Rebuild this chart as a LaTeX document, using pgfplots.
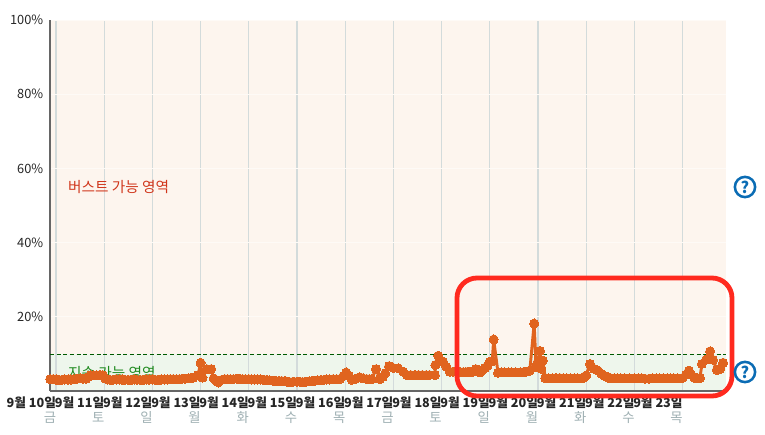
\documentclass[border=0pt]{standalone}
\usepackage{pgfplots}
\pgfplotsset{compat=1.18}
\usepackage{fontspec}
\setmainfont{Noto Sans CJK KR}
\definecolor{burstbg}{HTML}{FDF5EE}
\definecolor{sustbg}{HTML}{EEF6EC}
\definecolor{gridv}{HTML}{D3DBDB}
\definecolor{dataor}{HTML}{E0641F}
\definecolor{helpb}{HTML}{0B6CB4}
\definecolor{boxr}{HTML}{FF2A1F}
\definecolor{wkd}{HTML}{9FB0B3}
\definecolor{bursttxt}{HTML}{D0351A}
\definecolor{susttxt}{HTML}{1E8A1E}
\definecolor{hgrid}{HTML}{FEFAF6}
\newcommand{\Q}[2]{(#1*0.75pt,-#2*0.75pt)}
\pgfplotstableread{
x y
-0.12 3.2
-0.06 3.2
0 3.1
0.06 3.0
0.12 3.0
0.18 3.1
0.25 3.1
0.31 3.1
0.37 3.2
0.43 3.3
0.5 3.4
0.56 3.3
0.62 3.3
0.67 3.8
0.72 4.3
0.78 4.2
0.85 4.2
0.91 4.3
0.97 4.3
1.02 3.4
1.07 3.1
1.12 3.0
1.18 3.0
1.25 3.1
1.31 3.1
1.37 3.1
1.43 3.0
1.5 3.0
1.56 3.0
1.62 3.1
1.68 3.0
1.75 3.0
1.81 3.0
1.87 3.1
1.93 3.1
2 3.1
2.06 3.0
2.12 3.0
2.18 3.1
2.25 3.1
2.31 3.1
2.37 3.2
2.43 3.2
2.5 3.2
2.56 3.2
2.62 3.3
2.68 3.3
2.75 3.4
2.8 3.5
2.85 3.6
2.95 4.3
3.0 7.6
3.04 3.6
3.13 5.9
3.22 5.9
3.27 3.4
3.32 2.8
3.37 2.3
3.44 3.0
3.5 3.2
3.56 3.2
3.62 3.2
3.68 3.2
3.75 3.3
3.81 3.3
3.87 3.2
3.93 3.2
4 3.2
4.06 3.1
4.12 3.1
4.18 3.1
4.25 3.1
4.31 3.0
4.37 3.0
4.43 2.9
4.5 2.8
4.56 2.7
4.62 2.7
4.68 2.7
4.75 2.7
4.8 2.5
4.85 2.4
4.92 2.5
5 2.5
5.06 2.5
5.12 2.4
5.18 2.5
5.25 2.6
5.31 2.7
5.37 2.8
5.43 2.9
5.5 3.0
5.56 3.0
5.62 3.1
5.68 3.1
5.75 3.2
5.82 3.2
5.9 3.3
5.96 4.0
6.02 5.0
6.08 4.0
6.14 3.0
6.22 3.3
6.3 3.7
6.37 3.4
6.45 3.2
6.5 3.2
6.55 3.2
6.64 5.9
6.72 3.2
6.78 3.8
6.83 4.8
6.91 6.7
7 6.2
7.1 6.1
7.2 5.2
7.28 4.3
7.36 4.3
7.45 4.3
7.52 4.3
7.6 4.3
7.68 4.3
7.75 4.3
7.86 4.3
7.87 7.0
7.93 9.5
8.03 7.9
8.1 6.5
8.17 5.2
8.24 5.2
8.3 5.2
8.38 5.1
8.45 5.1
8.5 5.1
8.55 5.2
8.6 5.2
8.65 5.2
8.71 5.9
8.8 5.0
8.85 5.6
8.9 6.2
8.95 6.8
9 7.9
9.05 8.0
9.08 13.9
9.17 4.9
9.24 5.0
9.3 5.0
9.38 5.0
9.45 5.0
9.54 5.0
9.63 5.0
9.7 5.1
9.75 5.2
9.83 5.5
9.92 18.2
9.96 6.5
10 8.0
10.04 10.8
10.07 6.0
10.1 8.2
10.15 3.5
10.22 3.4
10.3 3.4
10.37 3.5
10.45 3.5
10.52 3.4
10.6 3.4
10.68 3.4
10.75 3.4
10.82 3.4
10.9 3.4
10.95 3.6
11 4.2
11.08 7.3
11.16 6.0
11.24 5.5
11.32 4.6
11.39 4.0
11.45 3.6
11.5 3.5
11.58 3.4
11.65 3.4
11.72 3.4
11.8 3.4
11.9 3.4
12 3.4
12.08 3.4
12.15 3.4
12.22 3.3
12.3 3.3
12.38 3.4
12.45 3.4
12.52 3.4
12.6 3.4
12.68 3.4
12.75 3.4
12.82 3.4
12.9 3.4
13 3.5
13.07 4.4
13.13 5.5
13.18 4.4
13.24 3.6
13.3 3.5
13.36 3.5
13.4 7.3
13.49 8.5
13.57 10.7
13.63 8.4
13.71 5.7
13.75 5.8
13.78 6.0
13.84 7.6
}\usage
\begin{document}
\begin{tikzpicture}[every node/.append style={inner sep=0pt,outer sep=0pt}]
\path[use as bounding box] (0,0) rectangle (765*0.75pt,-435*0.75pt);
\fill[burstbg] \Q{50}{20} rectangle \Q{726}{354};
\fill[sustbg] \Q{50}{354} rectangle \Q{726}{391};
\begin{axis}[
  at={(37.5pt,-293.25pt)},anchor=south west,
  scale only axis,width=507pt,height=278.25pt,
  xmin=-0.1245,xmax=13.9,ymin=0,ymax=100,
  axis x line=bottom,axis y line=left,
  axis line style={-,draw=black!60,line width=1.4pt},
  tick style={draw=none},
  xtick={0,...,13},
  xticklabels={9월 10일,9월 11일,9월 12일,9월 13일,9월 14일,9월 15일,9월 16일,9월 17일,9월 18일,9월 19일,9월 20일,9월 21일,9월 22일,9월 23일},
  xticklabel style={font=\fontsize{9.5pt}{11pt}\selectfont\bfseries,text=black!85,anchor=north east,xshift=0pt,yshift=-2pt},
  ytick={20,40,60,80,100},
  yticklabel={\pgfmathprintnumber[assume math mode=true]{\tick}\%},
  yticklabel style={font=\fontsize{9.6pt}{11pt}\selectfont,text=black!85,anchor=east,xshift=-3pt},
  xmajorgrids,ymajorgrids,
  x grid style={gridv,line width=1pt},
  y grid style={hgrid,line width=0.6pt},
  clip=false,
]
\addplot[draw=green!35!black,densely dashed,line width=0.6pt,forget plot] coordinates {(-0.1245,10) (13.9,10)};
\node[anchor=west,text=bursttxt,font=\fontsize{11pt}{12pt}\selectfont] at (axis cs:0.25,55) {버스트 가능 영역};
\node[anchor=west,text=susttxt,font=\fontsize{11pt}{12pt}\selectfont] at (axis cs:0.25,4.9) {지속 가능 영역};
\addplot[draw=dataor,line width=2.2pt,mark=*,mark size=3.4pt,mark options={fill=dataor,draw=dataor,line width=0pt},line join=round] table[x=x,y=y] {\usage};
\end{axis}
\foreach \d/\w in {0/금,1/토,2/일,3/월,4/화,5/수,6/목,7/금,8/토,9/일,10/월,11/화,12/수,13/목}{
  \node[text=wkd,font=\fontsize{10pt}{11pt}\selectfont] at (\d*48.2*0.75pt+50*0.75pt,-417.5*0.75pt) {\w};
}
\draw[boxr,line width=3.6pt,rounded corners=15pt] \Q{457}{278} rectangle \Q{732}{396};
\foreach \yy in {187,372}{
  \draw[helpb,line width=1.9pt] \Q{745}{\yy} circle (7.6pt);
  \node[text=helpb,font=\fontsize{12pt}{13pt}\selectfont\bfseries] at \Q{745}{\yy} {?};
}
\end{tikzpicture}
\end{document}
